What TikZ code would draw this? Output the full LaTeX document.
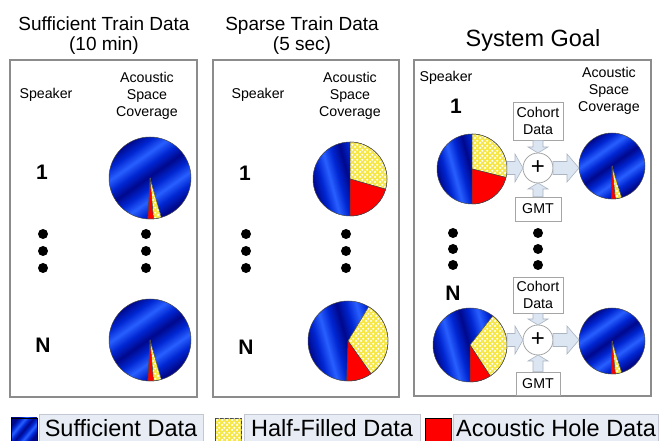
\documentclass[tikz,border=0pt]{standalone}
\usepackage{fontspec}
\setmainfont{Liberation Sans}
\usetikzlibrary{calc,patterns.meta}

\definecolor{dkblue}{RGB}{0,8,140}
\definecolor{mdblue}{RGB}{0,38,210}
\definecolor{brblue}{RGB}{40,95,255}
\definecolor{pieyellow}{RGB}{246,230,70}
\definecolor{piered}{RGB}{255,0,0}
\definecolor{pieline}{RGB}{70,70,70}
\definecolor{panelgray}{RGB}{140,140,140}
\definecolor{boxgray}{RGB}{165,165,165}
\definecolor{arrowfill}{RGB}{220,230,242}
\definecolor{arrowline}{RGB}{170,180,195}
\definecolor{legendfill}{RGB}{232,237,245}
\definecolor{legendline}{RGB}{195,200,210}

% soft diagonal blue bands for the "sufficient data" regions
\pgfdeclarehorizontalshading{bluestripes}{100bp}{%
  color(0bp)=(dkblue); color(25bp)=(dkblue); color(31bp)=(mdblue);
  color(37bp)=(brblue); color(43bp)=(mdblue); color(49bp)=(dkblue);
  color(55bp)=(mdblue); color(61bp)=(brblue); color(67bp)=(mdblue);
  color(73bp)=(dkblue); color(100bp)=(dkblue)}

% white dots on the half-filled regions
\tikzdeclarepattern{
  name=whitedots, type=uncolored,
  bounding box={(0pt,0pt) and (4.6pt,4.6pt)},
  tile size={(4.6pt,4.6pt)},
  code={\fill (1.15pt,1.15pt) circle (1.25pt); \fill (3.45pt,3.45pt) circle (1.25pt);}}

\tikzset{
  panel/.style={draw=panelgray, line width=1.3pt},
  headtxt/.style={font=\fontsize{19}{21}\selectfont, anchor=base, inner sep=0pt},
  goaltxt/.style={font=\fontsize{23.5}{26}\selectfont, anchor=base, inner sep=0pt},
  smalltxt/.style={font=\fontsize{14.2}{17}\selectfont, inner sep=0pt},
  coltxt/.style={smalltxt, align=center, anchor=north},
  idtxt/.style={font=\fontsize{21}{21}\selectfont\bfseries, inner sep=0pt},
  disc/.style={circle, inner sep=0pt, outer sep=0pt, minimum size=#1,
    shading=bluestripes, draw=pieline, line width=0.5pt},
  redpart/.style={fill=piered},
  yellowpart/.style={fill=pieyellow, postaction={pattern=whitedots, pattern color=white}},
  infobox/.style={draw=boxgray, fill=white, line width=0.8pt, smalltxt,
    align=center, inner sep=0pt},
  plusnode/.style={circle, draw=boxgray, fill=white, line width=0.8pt,
    minimum size=30pt, inner sep=0pt, outer sep=0pt,
    font=\fontsize{24}{24}\selectfont},
  barrow/.style={fill=arrowfill, draw=arrowline, line width=0.6pt, line join=miter},
  swatch/.style={minimum width=26pt, minimum height=25pt, inner sep=0pt, line width=0.8pt},
  legbox/.style={fill=legendfill, draw=legendline, line width=0.6pt,
    font=\fontsize{23.5}{26}\selectfont, minimum height=29pt, inner sep=0pt},
}

% wedge of a pie: style, pie node, radius, start angle, end angle
\newcommand\pieslice[5]{%
  \fill[#1] (#2.center) -- ++(#4:#3) arc[start angle=#4, end angle=#5, radius=#3] -- cycle;
  \draw[pieline, line width=0.5pt, line join=round]
    (#2.center) -- ++(#4:#3) arc[start angle=#4, end angle=#5, radius=#3] -- cycle;}

% block arrow: from, to, shaft half width, head half width, head length
\newcommand\blockarrow[5]{%
  \draw[barrow] let \p1=(#1), \p2=(#2), \n1={atan2(\y2-\y1,\x2-\x1)},
      \p3=($(#2)!#5!(#1)$) in
    ($(\p1)+({\n1+90}:#3)$) -- ($(\p3)+({\n1+90}:#3)$) -- ($(\p3)+({\n1+90}:#4)$)
    -- (\p2) -- ($(\p3)+({\n1-90}:#4)$) -- ($(\p3)+({\n1-90}:#3)$)
    -- ($(\p1)+({\n1-90}:#3)$) -- cycle;}

\begin{document}
\begin{tikzpicture}[x=1pt, y=1pt]
\useasboundingbox (0,0) rectangle (661,441);

% ---------- column headings ----------
\node[headtxt] (h1a) at (104,410) {Sufficient Train Data};
\node[headtxt] (h1b) at (104,390) {(10 min)};
\node[headtxt] (h2a) at (302,410) {Sparse Train Data};
\node[headtxt] (h2b) at (302,390) {(5 sec)};
\node[goaltxt] (h3) at (533,394) {System Goal};

% ---------- frames ----------
\draw[panel] (10,44) rectangle (197,381);
\draw[panel] (213,44) rectangle (399,381);
\draw[panel] (414,45) rectangle (651,381);

% ---------- panel 1: sufficient data ----------
\node[smalltxt, anchor=base] (spk1) at (46,342) {Speaker};
\node[coltxt] (cov1) at (147,369) {Acoustic\\Space\\Coverage};
\node[idtxt] (one1) at (42,269) {1};
\node[idtxt] (en1) at (43,96) {N};
\node[disc=82pt, shading angle=-55] (pa1) at (150,263) {};
\pieslice{redpart}{pa1}{41}{-93}{-85}
\pieslice{yellowpart}{pa1}{41}{-85}{-74}
\node[disc=82pt, shading angle=-55] (pb1) at (150,101) {};
\pieslice{redpart}{pb1}{41}{-93}{-85}
\pieslice{yellowpart}{pb1}{41}{-85}{-74}
\foreach \yy in {207,190,173} {
  \fill (43,\yy) circle (5);
  \fill (146,\yy) circle (5);
}

% ---------- panel 2: sparse data ----------
\node[smalltxt, anchor=base] (spk2) at (258,342) {Speaker};
\node[coltxt] (cov2) at (350,369) {Acoustic\\Space\\Coverage};
\node[idtxt] (one2) at (245,268) {1};
\node[idtxt] (en2) at (246,94) {N};
\node[disc=74pt, shading angle=15] (pa2) at (350,262) {};
\pieslice{yellowpart}{pa2}{37}{-16}{90}
\pieslice{redpart}{pa2}{37}{-90}{-16}
\node[disc=80pt, shading angle=15] (pb2) at (348,100) {};
\pieslice{yellowpart}{pb2}{40}{-55}{59}
\pieslice{redpart}{pb2}{40}{-92}{-55}
\foreach \yy in {207,190,173} {
  \fill (246,\yy) circle (5);
  \fill (346,\yy) circle (5);
}

% ---------- panel 3: system goal ----------
\node[smalltxt, anchor=base] (spk3) at (446,359) {Speaker};
\node[coltxt] (cov3) at (609,374) {Acoustic\\Space\\Coverage};
\node[idtxt] (one3) at (456,335) {1};
\node[idtxt] (en3) at (453,148) {N};
\foreach \yy in {208,192,176} {
  \fill (453,\yy) circle (5);
  \fill (538,\yy) circle (5);
}

% speaker 1
\node[disc=70pt, shading angle=15] (pa3) at (472,272) {};
\pieslice{yellowpart}{pa3}{35}{-14}{90}
\pieslice{redpart}{pa3}{35}{-90}{-14}
\node[disc=66pt, shading angle=-55] (qa3) at (612,275) {};
\pieslice{redpart}{qa3}{33}{-91}{-84}
\pieslice{yellowpart}{qa3}{33}{-84}{-73}
\node[infobox, minimum width=50pt, minimum height=38pt] (coha) at (538,320) {Cohort\\Data};
\node[infobox, minimum width=46pt, minimum height=24pt] (gmta) at (538,232) {GMT};
\node[plusnode] (plusa) at (538,273) {+};
\blockarrow{coha.south}{plusa.north}{5pt}{10pt}{6pt}
\blockarrow{gmta.north}{plusa.south}{5pt}{10pt}{6pt}
\blockarrow{pa3.east |- plusa}{plusa.west}{6.5pt}{14pt}{8pt}
\blockarrow{plusa.east}{qa3.west |- plusa}{6.5pt}{14pt}{12pt}

% speaker N
\node[disc=74pt, shading angle=15] (pb3) at (470,96) {};
\pieslice{yellowpart}{pb3}{37}{-57}{52}
\pieslice{redpart}{pb3}{37}{-90}{-57}
\node[disc=66pt, shading angle=-55] (qb3) at (612,100) {};
\pieslice{redpart}{qb3}{33}{-91}{-84}
\pieslice{yellowpart}{qb3}{33}{-84}{-73}
\node[infobox, minimum width=50pt, minimum height=36pt] (cohb) at (538,146) {Cohort\\Data};
\node[infobox, minimum width=44pt, minimum height=23pt] (gmtb) at (538,57.5) {GMT};
\node[plusnode] (plusb) at (538,101) {+};
\blockarrow{cohb.south}{plusb.north}{5pt}{10pt}{6pt}
\blockarrow{gmtb.north}{plusb.south}{5pt}{10pt}{6pt}
\blockarrow{pb3.east |- plusb}{plusb.west}{6.5pt}{14pt}{8pt}
\blockarrow{plusb.east}{qb3.west |- plusb}{6.5pt}{14pt}{12pt}

% ---------- legend ----------
\node[swatch, draw=black, shading=bluestripes, shading angle=-40] (swb) at (24,10.5) {};
\node[legbox, minimum width=164pt] (lgb) at (121,12.5) {Sufficient Data};
\node[swatch, draw=pieline, yellowpart] (swy) at (228.5,10.5) {};
\node[legbox, minimum width=176pt] (lgy) at (332,12.5) {Half-Filled Data};
\node[swatch, draw=black, fill=piered] (swr) at (438,10.5) {};
\node[legbox, minimum width=205pt] (lgr) at (556,12.5) {Acoustic Hole Data};
\end{tikzpicture}
\end{document}
